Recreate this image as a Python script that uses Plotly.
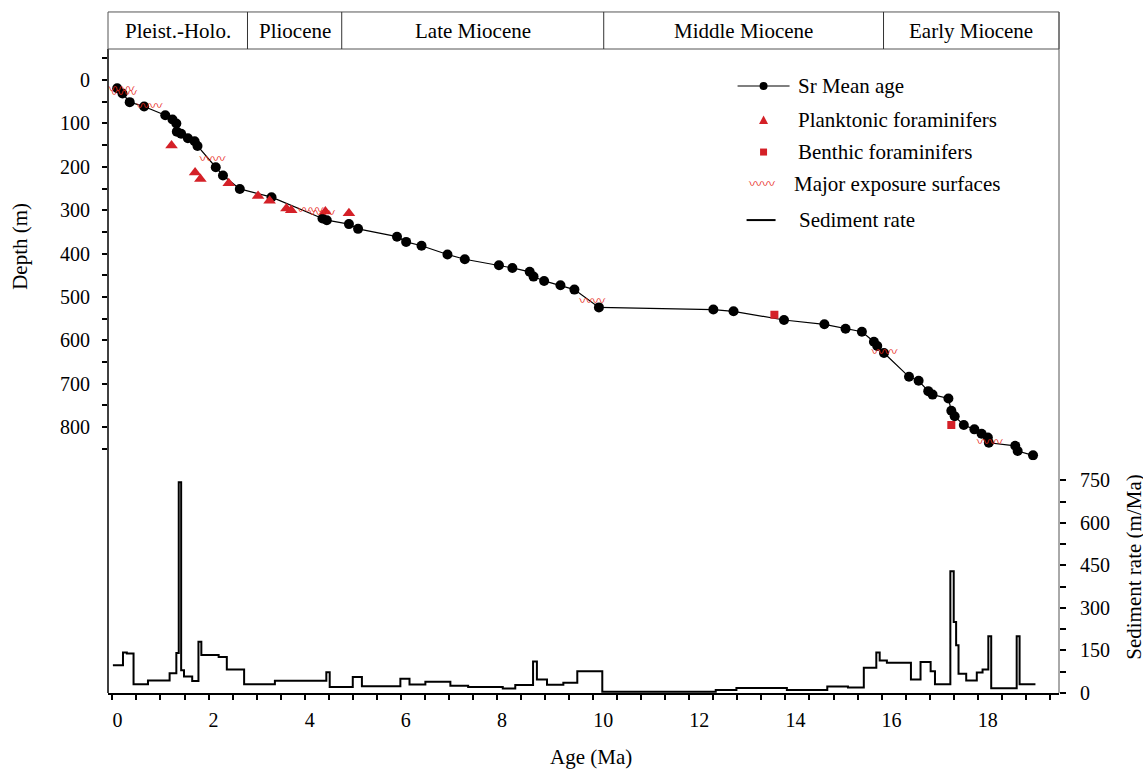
import plotly.graph_objects as go

# ---------------- data ----------------
sr_age = [0.10, 0.21, 0.36, 0.66, 1.10, 1.25, 1.33, 1.34, 1.43, 1.57, 1.71, 1.77, 2.15, 2.30, 2.65,
          3.31, 4.37, 4.46, 4.92, 5.11, 5.92, 6.11, 6.43, 6.97, 7.33, 8.04, 8.32, 8.68, 8.76, 8.98,
          9.32, 9.61, 10.12, 12.50, 12.92, 13.97, 14.81, 15.25, 15.59, 15.84, 15.91, 16.05, 16.57,
          16.77, 16.97, 17.06, 17.39, 17.45, 17.52, 17.71, 17.93, 18.08, 18.21, 18.23, 18.78, 18.83, 19.15]
sr_depth = [19, 31, 51, 61, 81, 91, 100, 119, 124, 134, 141, 152, 201, 220, 251,
            270, 319, 323, 332, 343, 361, 373, 382, 402, 413, 427, 433, 442, 453, 463,
            473, 483, 524, 529, 533, 553, 563, 573, 580, 603, 613, 629, 684,
            693, 717, 725, 734, 762, 775, 795, 805, 815, 824, 836, 843, 855, 865]

plank_age = [1.23, 1.72, 1.83, 2.42, 3.03, 3.27, 3.62, 3.72, 4.43, 4.92]
plank_depth = [151, 213, 228, 238, 267, 278, 296, 300, 303, 307]

benth_age = [13.77, 17.45]
benth_depth = [541, 795]

exp_age = [0.19, 0.24, 0.77, 2.08, 4.12, 4.36, 9.98, 16.06, 18.25]
exp_depth = [23, 32, 61, 184, 302, 309, 511, 628, 835]

rate_age = [0.01, 0.22, 0.30, 0.44, 0.74, 1.19, 1.33, 1.38, 1.43, 1.49, 1.66, 1.79, 1.85, 2.21, 2.38,
            2.74, 3.38, 4.45, 4.52, 5.00, 5.19, 5.99, 6.18, 6.51, 7.03, 7.40, 8.12, 8.38, 8.75, 8.83,
            9.04, 9.38, 9.67, 10.19, 12.55, 12.98, 14.03, 14.87, 15.30, 15.63, 15.89, 15.96, 16.11,
            16.61, 16.81, 17.02, 17.11, 17.43, 17.50, 17.55, 17.60, 17.76, 17.98, 18.10, 18.22, 18.28,
            18.81, 18.87, 19.20]
rate_val = [98, 143, 139, 31, 44, 70, 141, 743, 80, 58, 42, 181, 134, 127, 83,
            31, 43, 73, 21, 56, 24, 50, 30, 40, 26, 21, 16, 28, 111, 48,
            29, 36, 77, 4, 11, 18, 11, 23, 19, 89, 143, 115, 107,
            48, 109, 77, 31, 429, 250, 168, 68, 44, 72, 83, 200, 17,
            200, 31, 31]

epoch_names = ["Pleist.-Holo.", "Pliocene", "Late Miocene", "Middle Miocene", "Early Miocene"]
epoch_bounds = [-0.0915, 2.81, 4.77, 10.22, 16.04, 19.69]

x_ticks = [0, 2, 4, 6, 8, 10, 12, 14, 16, 18]
depth_ticks = [0, 100, 200, 300, 400, 500, 600, 700, 800]
rate_ticks = [0, 150, 300, 450, 600, 750]

legend_labels = ["Sr Mean age", "Planktonic foraminifers", "Benthic foraminifers",
                 "Major exposure surfaces", "Sediment rate"]

# ---------------- styling ----------------
W, H = 1143, 770
L, R, T, B = 108.3, 1059.5, 49.0, 692.7
PW, PH = R - L, B - T
SERIF = "Liberation Serif"
RED = "#d42027"
WAVE = "#e82a1c"
WAVE_GLYPH = "\u3030\u3030"
WAVE_FONT = dict(family="Noto Sans CJK SC", size=13, color=WAVE)
split = (B - 460) / PH


def px(xp):
    return (xp - L) / PW


def py(yp):
    return (B - yp) / PH


fig = go.Figure()

fig.add_trace(go.Scatter(x=sr_age, y=sr_depth, mode="lines+markers", xaxis="x", yaxis="y",
                         line=dict(color="black", width=1.2),
                         marker=dict(size=10, color="black"), name=legend_labels[0],
                         showlegend=False))
fig.add_trace(go.Scatter(x=plank_age, y=plank_depth, mode="markers", xaxis="x", yaxis="y",
                         marker=dict(symbol="triangle-up", size=11, color=RED),
                         name=legend_labels[1], showlegend=False))
fig.add_trace(go.Scatter(x=benth_age, y=benth_depth, mode="markers", xaxis="x", yaxis="y",
                         marker=dict(symbol="square", size=8, color=RED),
                         name=legend_labels[2], showlegend=False))
fig.add_trace(go.Scatter(x=exp_age, y=exp_depth, mode="text", xaxis="x", yaxis="y",
                         text=[WAVE_GLYPH] * len(exp_age), textposition="middle center",
                         textfont=WAVE_FONT,
                         name=legend_labels[3], showlegend=False, hoverinfo="x+y"))
fig.add_trace(go.Scatter(x=rate_age, y=rate_val, mode="lines", line_shape="hv",
                         xaxis="x", yaxis="y2", line=dict(color="black", width=2),
                         name=legend_labels[4], showlegend=False))

shapes = []
annotations = []

# frame lines
shapes.append(dict(type="line", xref="paper", yref="paper", x0=0, x1=0, y0=0, y1=1,
                   line=dict(color="black", width=1.5)))
shapes.append(dict(type="line", xref="paper", yref="paper", x0=1, x1=1, y0=0, y1=py(12),
                   line=dict(color="#555555", width=1)))
# epoch band
shapes.append(dict(type="rect", xref="paper", yref="paper", x0=0, x1=1, y0=1, y1=py(12),
                   line=dict(color="#555555", width=1)))
for b in epoch_bounds[1:-1]:
    shapes.append(dict(type="line", xref="x", yref="paper", x0=b, x1=b, y0=1, y1=py(12),
                       line=dict(color="#333333", width=1)))
for i, name in enumerate(epoch_names):
    annotations.append(dict(x=(epoch_bounds[i] + epoch_bounds[i + 1]) / 2, xref="x",
                            y=py(31), yref="paper", text=name, showarrow=False,
                            font=dict(family=SERIF, size=21, color="black"),
                            xanchor="center", yanchor="middle"))

# axis titles
annotations.append(dict(x=px(591), y=py(757), xref="paper", yref="paper", text="Age (Ma)",
                        showarrow=False, font=dict(family=SERIF, size=21, color="black"),
                        xanchor="center", yanchor="middle"))
annotations.append(dict(x=px(20), y=py(246), xref="paper", yref="paper", text="Depth (m)",
                        showarrow=False, textangle=-90,
                        font=dict(family=SERIF, size=21, color="black"),
                        xanchor="center", yanchor="middle"))
annotations.append(dict(x=px(1135), y=py(567), xref="paper", yref="paper",
                        text="Sediment rate (m/Ma)", showarrow=False, textangle=-90,
                        font=dict(family=SERIF, size=21, color="black"),
                        xanchor="center", yanchor="middle"))

# legend (manual)
leg_y = [86, 120, 152, 184, 220]
leg_tx = [796, 796, 796, 792, 797]
for lab, ly, lx in zip(legend_labels, leg_y, leg_tx):
    annotations.append(dict(x=px(lx), y=py(ly), xref="paper", yref="paper", text=lab,
                            showarrow=False, font=dict(family=SERIF, size=21, color="black"),
                            xanchor="left", yanchor="middle"))
# Sr glyph
shapes.append(dict(type="line", xref="paper", yref="paper", x0=px(738), x1=px(790),
                   y0=py(leg_y[0]), y1=py(leg_y[0]), line=dict(color="black", width=1.2)))
shapes.append(dict(type="circle", xref="paper", yref="paper", x0=px(760), x1=px(768),
                   y0=py(leg_y[0] + 4), y1=py(leg_y[0] - 4), fillcolor="black",
                   line=dict(color="black", width=0)))
# triangle glyph
tcx, tcy = 764, leg_y[1]
shapes.append(dict(type="path", xref="paper", yref="paper",
                   path=f"M {px(tcx-4.5)},{py(tcy+4)} L {px(tcx+4.5)},{py(tcy+4)} L {px(tcx)},{py(tcy-4.5)} Z",
                   fillcolor=RED, line=dict(color=RED, width=0)))
# square glyph
shapes.append(dict(type="rect", xref="paper", yref="paper", x0=px(760.5), x1=px(767.5),
                   y0=py(leg_y[2] + 3.5), y1=py(leg_y[2] - 3.5), fillcolor=RED,
                   line=dict(color=RED, width=0)))
# wave glyph
annotations.append(dict(x=px(762), y=py(leg_y[3] - 2), xref="paper", yref="paper",
                        text=WAVE_GLYPH, showarrow=False, font=WAVE_FONT,
                        xanchor="center", yanchor="middle"))
# sediment line glyph
shapes.append(dict(type="line", xref="paper", yref="paper", x0=px(747), x1=px(776),
                   y0=py(leg_y[4]), y1=py(leg_y[4]), line=dict(color="black", width=2)))

tickfont = dict(family=SERIF, size=20, color="black")

fig.update_layout(
    width=W, height=H,
    margin=dict(l=L, r=W - R, t=T, b=H - B, pad=0),
    paper_bgcolor="white", plot_bgcolor="white",
    showlegend=False,
    xaxis=dict(domain=[0, 1], range=[epoch_bounds[0], epoch_bounds[-1]], anchor="y2",
               showline=True, linecolor="black", linewidth=1.5, mirror=False,
               ticks="outside", ticklen=5, tickwidth=1.5, tickcolor="black",
               tickvals=x_ticks,
               ticktext=["\u00a0" * (2 * len(str(v))) + str(v) for v in x_ticks],
               minor=dict(ticks="outside", ticklen=5, tickwidth=1.5, tickcolor="black", dtick=0.5,
                          tick0=0, showgrid=False),
               showgrid=False, zeroline=False, tickfont=tickfont, ticklabelstandoff=3),
    yaxis=dict(domain=[split, 1], range=[876.1, -71.5], anchor="x", side="left",
               showline=False, ticks="outside", ticklen=5, tickwidth=1.5, tickcolor="black",
               tickvals=depth_ticks, ticktext=[str(v) for v in depth_ticks],
               minor=dict(ticks="outside", ticklen=5, tickwidth=1.5, tickcolor="black", dtick=50,
                          tick0=0, showgrid=False),
               showgrid=False, zeroline=False, tickfont=tickfont, ticklabelstandoff=8),
    yaxis2=dict(domain=[0, split], range=[0, 821], anchor="x", side="right",
                showline=False, ticks="outside", ticklen=6, tickwidth=1.5, tickcolor="black",
                tickvals=rate_ticks, ticktext=[str(v) for v in rate_ticks],
                minor=dict(ticks="outside", ticklen=6, tickwidth=1.5, tickcolor="black", dtick=75,
                           tick0=0, showgrid=False),
                showgrid=False, zeroline=False, tickfont=tickfont, ticklabelstandoff=10),
    shapes=shapes,
    annotations=annotations,
)

fig.write_html("out.html")
